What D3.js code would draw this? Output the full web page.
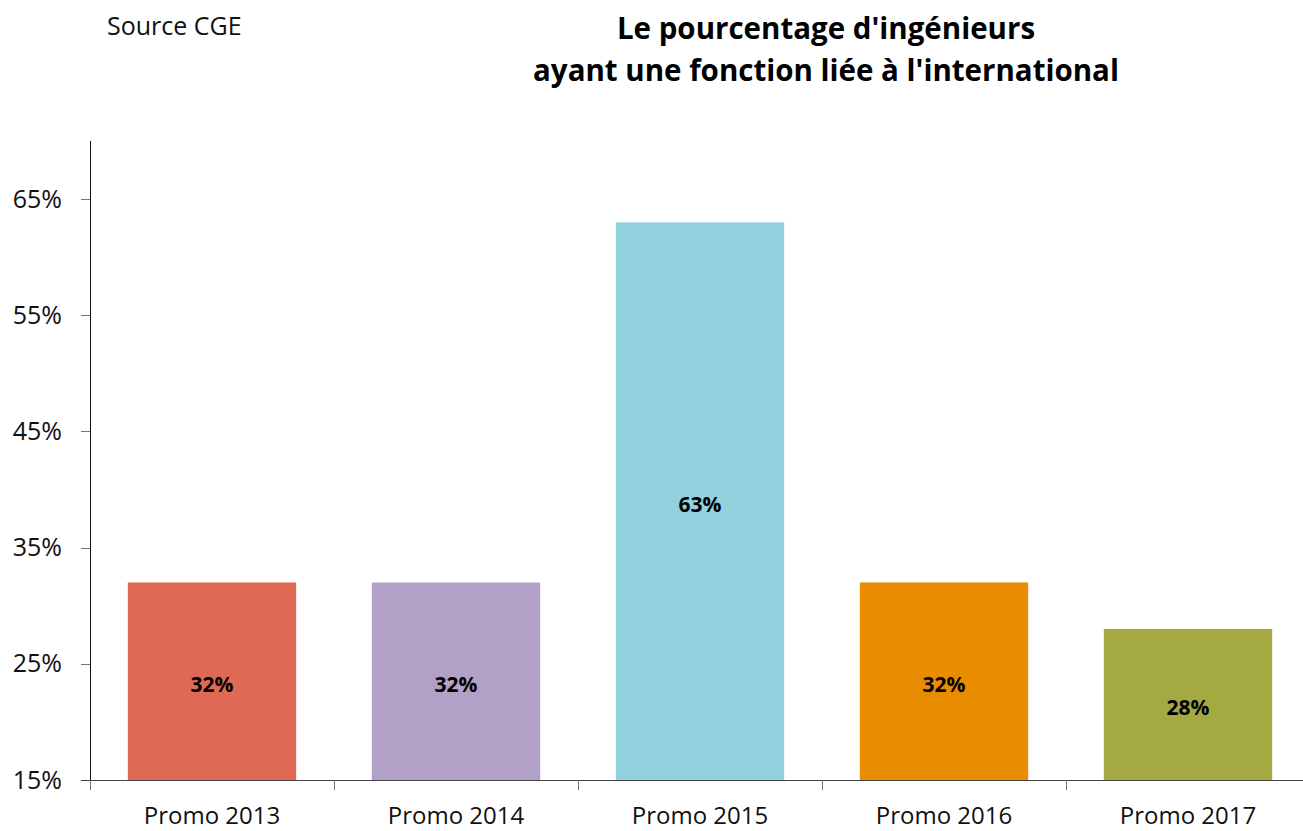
<!DOCTYPE html>
<html>
<head>
<meta charset="utf-8">
<script src="https://cdn.jsdelivr.net/npm/d3@7"></script>
<style>
  html, body { margin: 0; padding: 0; background: #fff; }
  svg { display: block; font-family: "Open Sans", "Noto Sans", sans-serif; }
  .axis line, .axis path { shape-rendering: crispEdges; }
</style>
</head>
<body>
<svg id="chart" width="1303" height="831"></svg>
<script>
// Promotions and share of engineers with an international role (%)
const categories = ["Promo 2013", "Promo 2014", "Promo 2015", "Promo 2016", "Promo 2017"];
const values = [32, 32, 63, 32, 28];
const colors = ["#E06955", "#B1A1C7", "#92D1DE", "#EA8C00", "#A4A942"];
const yTicks = [15, 25, 35, 45, 55, 65];
const titleLines = ["Le pourcentage d'ingénieurs", "ayant une fonction liée à l'international"];
const sourceText = "Source CGE";

const svg = d3.select("#chart");
const plot = { left: 90, right: 1310, top: 141, bottom: 780 };

const x = d3.scaleBand()
  .domain(categories)
  .range([plot.left, plot.right])
  .paddingInner(0)
  .paddingOuter(0);

const y = d3.scaleLinear()
  .domain([15, 70])
  .range([plot.bottom, plot.top]);

const barW = x.bandwidth() * 0.69;

// Bars
svg.append("g")
  .selectAll("rect")
  .data(values)
  .join("rect")
  .attr("x", (d, i) => x(categories[i]) + (x.bandwidth() - barW) / 2)
  .attr("y", d => y(d))
  .attr("width", barW)
  .attr("height", d => y(15) - y(d))
  .attr("fill", (d, i) => colors[i]);

// Value labels, centred in each bar
svg.append("g")
  .selectAll("text")
  .data(values)
  .join("text")
  .attr("x", (d, i) => x(categories[i]) + x.bandwidth() / 2)
  .attr("y", d => (y(d) + y(15)) / 2 + 3)
  .attr("dy", "0.35em")
  .attr("text-anchor", "middle")
  .attr("font-size", 21)
  .attr("font-weight", "bold")
  .attr("fill", "#000")
  .text(d => d + "%");

// Y axis
const yAxis = svg.append("g")
  .attr("class", "axis")
  .attr("transform", `translate(${plot.left},0)`)
  .call(d3.axisLeft(y).tickValues(yTicks).tickSize(9).tickPadding(19).tickFormat(d => d + "%"));
yAxis.select(".domain").attr("stroke", "#111").attr("d", `M0,${plot.top}V${plot.bottom}`);
yAxis.selectAll(".tick line").attr("stroke", "#777");
yAxis.selectAll(".tick text")
  .attr("font-size", 25)
  .attr("fill", "#111")
  .attr("font-family", "'Open Sans', 'Noto Sans', sans-serif");

// X axis: ticks at the boundaries between categories
const xAxis = svg.append("g")
  .attr("class", "axis")
  .attr("transform", `translate(0,${plot.bottom})`);
xAxis.append("line")
  .attr("x1", plot.left - 9).attr("x2", plot.right)
  .attr("stroke", "#444");
xAxis.selectAll(".bound")
  .data(categories)
  .join("line")
  .attr("class", "bound")
  .attr("x1", d => x(d)).attr("x2", d => x(d))
  .attr("y1", 0).attr("y2", 10)
  .attr("stroke", "#777");
xAxis.selectAll(".cat")
  .data(categories)
  .join("text")
  .attr("class", "cat")
  .attr("x", d => x(d) + x.bandwidth() / 2)
  .attr("y", 44)
  .attr("text-anchor", "middle")
  .attr("font-size", 24)
  .attr("fill", "#111")
  .text(d => d);

// Title
svg.append("g")
  .selectAll("text")
  .data(titleLines)
  .join("text")
  .attr("x", 826)
  .attr("y", (d, i) => 39 + i * 42)
  .attr("text-anchor", "middle")
  .attr("font-size", 29.5)
  .attr("font-weight", "bold")
  .attr("fill", "#000")
  .text(d => d);

// Source note
svg.append("text")
  .attr("x", 107)
  .attr("y", 35)
  .attr("font-size", 25)
  .attr("fill", "#111")
  .text(sourceText);
</script>
</body>
</html>
